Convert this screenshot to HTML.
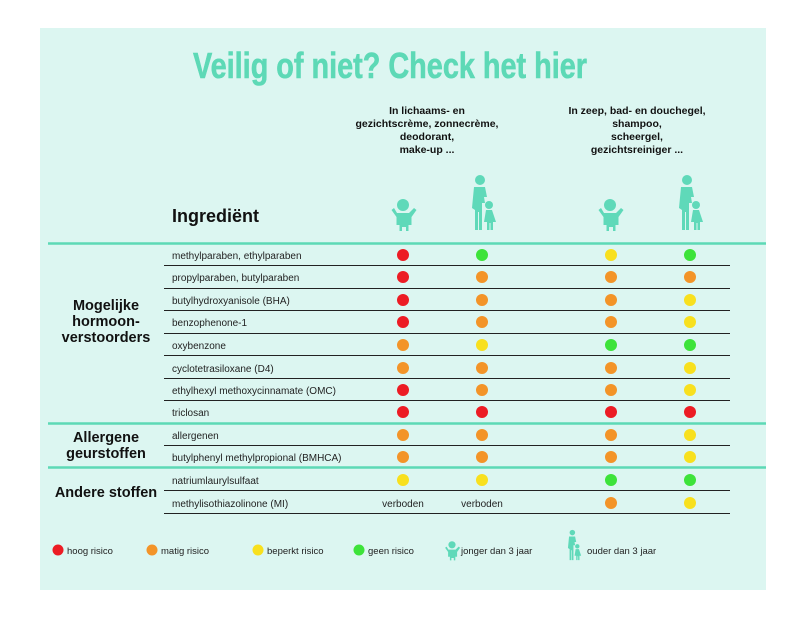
<!DOCTYPE html>
<html><head><meta charset="utf-8">
<style>
html,body{margin:0;padding:0;background:#fff;width:800px;height:618px;overflow:hidden}
svg{display:block}
text{font-family:"Liberation Sans",sans-serif}
</style></head><body>
<svg width="800" height="618" viewBox="0 0 800 618" xmlns="http://www.w3.org/2000/svg">
<defs>
<g id="baby" fill="#5fd9b9">
<circle cx="0" cy="-22" r="6"/>
<path d="M-6,-14 h12 l5,-5 l2.5,2 l-5,7 v8 h-3 v6 h-2.5 v-4 h-4 v4 h-2.5 v-6 h-3 v-8 l-5,-7 l2.5,-2 z"/>
</g>
<g id="adult" fill="#5fd9b9">
<circle cx="-3" cy="-48" r="5"/>
<path d="M-9,-41 h11 l2,10 h-3 l1,6 h-3 v27 h-3 v-18 h-1 v18 h-3 v-20 l-3,-2 z"/>
<circle cx="6" cy="-23" r="4"/>
<path d="M3,-18 h6 l4,12 h-3 v8 h-2.5 v-7 h-1 v7 h-2.5 v-8 h-3 z"/>
</g>
</defs>
<rect x="40" y="28" width="726" height="562" fill="#dcf6f1"/>
<text x="390" y="78" text-anchor="middle" font-size="36" font-weight="bold" fill="#5dd9b6" stroke="#5dd9b6" stroke-width="0.6" textLength="394" lengthAdjust="spacingAndGlyphs">Veilig of niet? Check het hier</text>

<g font-size="10.5" font-weight="bold" text-anchor="middle" fill="#111">
<text x="427" y="114">In lichaams- en</text>
<text x="427" y="127">gezichtscrème, zonnecrème,</text>
<text x="427" y="140">deodorant,</text>
<text x="427" y="153">make-up ...</text>
<text x="637" y="114">In zeep, bad- en douchegel,</text>
<text x="637" y="127">shampoo,</text>
<text x="637" y="140">scheergel,</text>
<text x="637" y="153">gezichtsreiniger ...</text>
</g>
<use href="#baby" x="403" y="227"/>
<use href="#adult" x="483" y="228"/>
<use href="#baby" x="610" y="227"/>
<use href="#adult" x="690" y="228"/>

<text x="172" y="222" font-size="18" font-weight="bold" fill="#111">Ingrediënt</text>

<g stroke="#5dd9b6" stroke-width="2.5">
<line x1="48" y1="243.5" x2="766" y2="243.5"/>
<line x1="48" y1="423.5" x2="766" y2="423.5"/>
<line x1="48" y1="467.5" x2="766" y2="467.5"/>
</g>
<g stroke="#222" stroke-width="1">
<line x1="164" y1="265.5" x2="730" y2="265.5"/>
<line x1="164" y1="288.5" x2="730" y2="288.5"/>
<line x1="164" y1="310.5" x2="730" y2="310.5"/>
<line x1="164" y1="333.5" x2="730" y2="333.5"/>
<line x1="164" y1="355.5" x2="730" y2="355.5"/>
<line x1="164" y1="378.5" x2="730" y2="378.5"/>
<line x1="164" y1="400.5" x2="730" y2="400.5"/>
<line x1="164" y1="445.5" x2="730" y2="445.5"/>
<line x1="164" y1="490.5" x2="730" y2="490.5"/>
<line x1="164" y1="513.5" x2="730" y2="513.5"/>
</g>

<g font-size="10" fill="#222">
<text x="172" y="259">methylparaben, ethylparaben</text>
<text x="172" y="281">propylparaben, butylparaben</text>
<text x="172" y="304">butylhydroxyanisole (BHA)</text>
<text x="172" y="326">benzophenone-1</text>
<text x="172" y="349">oxybenzone</text>
<text x="172" y="372">cyclotetrasiloxane (D4)</text>
<text x="172" y="394">ethylhexyl methoxycinnamate (OMC)</text>
<text x="172" y="416">triclosan</text>
<text x="172" y="439">allergenen</text>
<text x="172" y="461">butylphenyl methylpropional (BMHCA)</text>
<text x="172" y="484">natriumlaurylsulfaat</text>
<text x="172" y="507">methylisothiazolinone (MI)</text>
<text x="403" y="507" text-anchor="middle">verboden</text>
<text x="482" y="507" text-anchor="middle">verboden</text>
</g>

<g font-size="14.5" font-weight="bold" fill="#111" text-anchor="middle">
<text x="106" y="310">Mogelijke</text>
<text x="106" y="326">hormoon-</text>
<text x="106" y="342">verstoorders</text>
<text x="106" y="442">Allergene</text>
<text x="106" y="458">geurstoffen</text>
<text x="106" y="497">Andere stoffen</text>
</g>

<g>
<circle cx="403" cy="255" r="6" fill="#ec1c24"/><circle cx="482" cy="255" r="6" fill="#3de33a"/><circle cx="611" cy="255" r="6" fill="#f8e01e"/><circle cx="690" cy="255" r="6" fill="#3de33a"/>
<circle cx="403" cy="277" r="6" fill="#ec1c24"/><circle cx="482" cy="277" r="6" fill="#f39428"/><circle cx="611" cy="277" r="6" fill="#f39428"/><circle cx="690" cy="277" r="6" fill="#f39428"/>
<circle cx="403" cy="300" r="6" fill="#ec1c24"/><circle cx="482" cy="300" r="6" fill="#f39428"/><circle cx="611" cy="300" r="6" fill="#f39428"/><circle cx="690" cy="300" r="6" fill="#f8e01e"/>
<circle cx="403" cy="322" r="6" fill="#ec1c24"/><circle cx="482" cy="322" r="6" fill="#f39428"/><circle cx="611" cy="322" r="6" fill="#f39428"/><circle cx="690" cy="322" r="6" fill="#f8e01e"/>
<circle cx="403" cy="345" r="6" fill="#f39428"/><circle cx="482" cy="345" r="6" fill="#f8e01e"/><circle cx="611" cy="345" r="6" fill="#3de33a"/><circle cx="690" cy="345" r="6" fill="#3de33a"/>
<circle cx="403" cy="368" r="6" fill="#f39428"/><circle cx="482" cy="368" r="6" fill="#f39428"/><circle cx="611" cy="368" r="6" fill="#f39428"/><circle cx="690" cy="368" r="6" fill="#f8e01e"/>
<circle cx="403" cy="390" r="6" fill="#ec1c24"/><circle cx="482" cy="390" r="6" fill="#f39428"/><circle cx="611" cy="390" r="6" fill="#f39428"/><circle cx="690" cy="390" r="6" fill="#f8e01e"/>
<circle cx="403" cy="412" r="6" fill="#ec1c24"/><circle cx="482" cy="412" r="6" fill="#ec1c24"/><circle cx="611" cy="412" r="6" fill="#ec1c24"/><circle cx="690" cy="412" r="6" fill="#ec1c24"/>
<circle cx="403" cy="435" r="6" fill="#f39428"/><circle cx="482" cy="435" r="6" fill="#f39428"/><circle cx="611" cy="435" r="6" fill="#f39428"/><circle cx="690" cy="435" r="6" fill="#f8e01e"/>
<circle cx="403" cy="457" r="6" fill="#f39428"/><circle cx="482" cy="457" r="6" fill="#f39428"/><circle cx="611" cy="457" r="6" fill="#f39428"/><circle cx="690" cy="457" r="6" fill="#f8e01e"/>
<circle cx="403" cy="480" r="6" fill="#f8e01e"/><circle cx="482" cy="480" r="6" fill="#f8e01e"/><circle cx="611" cy="480" r="6" fill="#3de33a"/><circle cx="690" cy="480" r="6" fill="#3de33a"/>
<circle cx="611" cy="503" r="6" fill="#f39428"/><circle cx="690" cy="503" r="6" fill="#f8e01e"/>
</g>

<g font-size="9.5" fill="#222">
<circle cx="58" cy="550" r="5.5" fill="#ec1c24"/><text x="67" y="554">hoog risico</text>
<circle cx="152" cy="550" r="5.5" fill="#f39428"/><text x="161" y="554">matig risico</text>
<circle cx="258" cy="550" r="5.5" fill="#f8e01e"/><text x="267" y="554">beperkt risico</text>
<circle cx="359" cy="550" r="5.5" fill="#3de33a"/><text x="368" y="554">geen risico</text>
<use href="#baby" transform="translate(452,558) scale(0.6)"/><text x="461" y="554">jonger dan 3 jaar</text>
<use href="#adult" transform="translate(574,559) scale(0.55)"/><text x="587" y="554">ouder dan 3 jaar</text>
</g>
</svg>
</body></html>
